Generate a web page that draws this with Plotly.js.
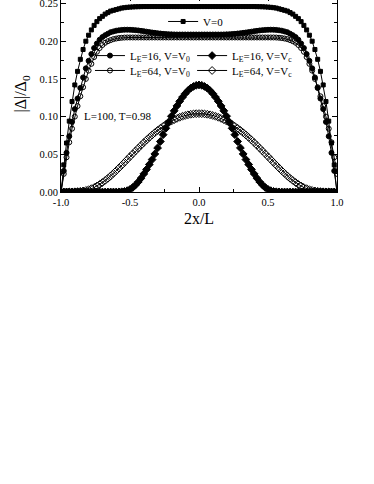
<!DOCTYPE html>
<html>
<head>
<meta charset="utf-8">
<script src="https://cdn.plot.ly/plotly-3.0.1.min.js"></script>
<style>
  html, body { margin: 0; padding: 0; background: #fff; overflow: hidden; }
  #chart { position: absolute; left: 0; top: -20px; width: 374px; height: 504px; }
</style>
</head>
<body>
<div id="chart"></div>
<script>
// 2x/L
const xPos = [-1.00,-0.98,-0.96,-0.94,-0.92,-0.90,-0.88,-0.86,-0.84,-0.82,-0.80,-0.78,-0.76,-0.74,-0.72,-0.70,-0.68,-0.66,-0.64,-0.62,-0.60,
  -0.58,-0.56,-0.54,-0.52,-0.50,-0.48,-0.46,-0.44,-0.42,-0.40,-0.38,-0.36,-0.34,-0.32,-0.30,-0.28,-0.26,-0.24,-0.22,-0.20,
  -0.18,-0.16,-0.14,-0.12,-0.10,-0.08,-0.06,-0.04,-0.02,0.00,0.02,0.04,0.06,0.08,0.10,0.12,0.14,0.16,0.18,0.20,
  0.22,0.24,0.26,0.28,0.30,0.32,0.34,0.36,0.38,0.40,0.42,0.44,0.46,0.48,0.50,0.52,0.54,0.56,0.58,0.60,
  0.62,0.64,0.66,0.68,0.70,0.72,0.74,0.76,0.78,0.80,0.82,0.84,0.86,0.88,0.90,0.92,0.94,0.96,0.98,1.00];

// |Δ|/Δ0, V=0
const gapV0 = [0,0.036,0.065,0.094,0.120,0.142,0.160,0.176,0.189,0.200,0.208,0.215,0.221,0.226,0.230,0.233,0.236,0.238,0.240,0.241,0.242,
  0.243,0.244,0.2445,0.245,0.2453,0.2455,0.2457,0.2458,0.2459,0.246,0.246,0.246,0.246,0.246,0.246,0.246,0.246,0.246,0.246,0.246,
  0.246,0.246,0.246,0.246,0.246,0.246,0.246,0.246,0.246,0.246,0.246,0.246,0.246,0.246,0.246,0.246,0.246,0.246,0.246,0.246,
  0.246,0.246,0.246,0.246,0.246,0.246,0.246,0.246,0.246,0.246,0.2459,0.2458,0.2457,0.2455,0.2453,0.245,0.2445,0.244,0.243,0.242,
  0.241,0.240,0.238,0.236,0.233,0.230,0.226,0.221,0.215,0.208,0.200,0.189,0.176,0.160,0.142,0.120,0.094,0.065,0.036,0];

// L_E=16, V=V0
const gapE16V0 = [0,0.028,0.052,0.074,0.093,0.110,0.124,0.138,0.152,0.164,0.174,0.183,0.191,0.197,0.202,0.2055,0.208,0.210,0.212,0.213,0.214,
  0.2145,0.215,0.2152,0.2153,0.2152,0.215,0.2147,0.2143,0.2138,0.2133,0.2127,0.2121,0.2116,0.2111,0.2106,0.2102,0.2098,0.2095,0.2093,0.2091,
  0.2090,0.2089,0.2089,0.2089,0.2089,0.2089,0.2089,0.2089,0.2089,0.2089,0.2089,0.2089,0.2089,0.2089,0.2089,0.2089,0.2089,0.2089,0.2090,0.2091,
  0.2093,0.2095,0.2098,0.2102,0.2106,0.2111,0.2116,0.2121,0.2127,0.2133,0.2138,0.2143,0.2147,0.215,0.2152,0.2153,0.2152,0.215,0.2145,0.214,
  0.213,0.212,0.210,0.208,0.2055,0.202,0.197,0.191,0.183,0.174,0.164,0.152,0.138,0.124,0.110,0.093,0.074,0.052,0.028,0];

// L_E=64, V=V0
const gapE64V0 = [0,0.024,0.046,0.066,0.084,0.100,0.114,0.127,0.139,0.150,0.161,0.170,0.179,0.186,0.191,0.195,0.198,0.200,0.2015,0.2028,0.2036,
  0.2042,0.2046,0.2049,0.205,0.205,0.205,0.205,0.205,0.205,0.205,0.205,0.205,0.205,0.205,0.205,0.205,0.205,0.205,0.205,0.205,
  0.205,0.205,0.205,0.205,0.205,0.205,0.205,0.205,0.205,0.205,0.205,0.205,0.205,0.205,0.205,0.205,0.205,0.205,0.205,0.205,
  0.205,0.205,0.205,0.205,0.205,0.205,0.205,0.205,0.205,0.205,0.205,0.205,0.205,0.205,0.205,0.205,0.205,0.2049,0.2046,0.2042,
  0.2036,0.2028,0.2015,0.200,0.198,0.195,0.191,0.186,0.179,0.170,0.161,0.150,0.139,0.127,0.114,0.100,0.084,0.066,0.046,0.024,0];

// L_E=16, V=Vc
const gapE16Vc = [0,0,0,0,0,0,0,0,0,0,0,0,0,0,0,0,0,0,0,0,0,
  0.0001,0.0003,0.0008,0.0018,0.0035,0.0060,0.0093,0.0134,0.0183,0.0240,0.0300,0.0365,0.0430,0.0505,0.0585,0.0670,0.0760,0.0845,0.0928,0.1005,
  0.1077,0.1142,0.1203,0.1257,0.1305,0.1345,0.1378,0.1400,0.1415,0.142,0.1415,0.1400,0.1378,0.1345,0.1305,0.1257,0.1203,0.1142,0.1077,0.1005,
  0.0928,0.0845,0.0760,0.0670,0.0585,0.0505,0.0430,0.0365,0.0300,0.0240,0.0183,0.0134,0.0093,0.0060,0.0035,0.0018,0.0008,0.0003,0.0001,0,
  0,0,0,0,0,0,0,0,0,0,0,0,0,0,0,0,0,0,0,0];

// L_E=64, V=Vc
const gapE64Vc = [0,0,0,0.0001,0.0001,0.0003,0.0005,0.0009,0.0014,0.0021,0.0031,0.0044,0.0060,0.0079,0.0101,0.0126,0.0153,0.0182,0.0213,0.0247,0.0282,
  0.0318,0.0355,0.0393,0.0431,0.0469,0.0507,0.0545,0.0582,0.0619,0.0655,0.0690,0.0724,0.0756,0.0787,0.0817,0.0845,0.0871,0.0896,0.0919,0.0940,
  0.0959,0.0976,0.0991,0.1004,0.1015,0.1024,0.1031,0.1036,0.1039,0.1040,0.1039,0.1036,0.1031,0.1024,0.1015,0.1004,0.0991,0.0976,0.0959,0.0940,
  0.0919,0.0896,0.0871,0.0845,0.0817,0.0787,0.0756,0.0724,0.0690,0.0655,0.0619,0.0582,0.0545,0.0507,0.0469,0.0431,0.0393,0.0355,0.0318,0.0282,
  0.0247,0.0213,0.0182,0.0153,0.0126,0.0101,0.0079,0.0060,0.0044,0.0031,0.0021,0.0014,0.0009,0.0005,0.0003,0.0001,0.0001,0,0,0];

const xTicks = [-1, -0.5, 0, 0.5, 1];
const xTickText = ['-1.0', '-0.5', '0.0', '0.5', '1.0'];
const yTicks = [0, 0.05, 0.10, 0.15, 0.20, 0.25];
const yTickText = ['0.00', '0.05', '0.10', '0.15', '0.20', '0.25'];

const FONT = 'Liberation Serif, Times New Roman, serif';

function series(y, name, symbol, size, legend) {
    return {
        x: xPos, y: y, name: name, legend: legend,
        type: 'scatter', mode: 'lines+markers',
        line: { color: '#000', width: 1 },
        marker: { symbol: symbol, size: size, color: '#000', line: { color: '#000', width: 1 } }
    };
}

// one legend box per entry so the rows sit where the reference has them
const traces = [
    series(gapV0, 'V=0', 'square', 4, 'legend'),
    series(gapE16V0, 'L<sub>E</sub>=16, V=V<sub>0</sub>', 'circle', 5, 'legend2'),
    series(gapE64V0, 'L<sub>E</sub>=64, V=V<sub>0</sub>', 'circle-open', 5, 'legend3'),
    series(gapE16Vc, 'L<sub>E</sub>=16, V=V<sub>c</sub>', 'diamond', 6, 'legend4'),
    series(gapE64Vc, 'L<sub>E</sub>=64, V=V<sub>c</sub>', 'diamond-open', 6, 'legend5')
];

function legendBox(x, y) {
    return {
        x: x, y: y, xanchor: 'left', yanchor: 'top',
        bgcolor: 'rgba(0,0,0,0)', borderwidth: 0,
        font: { family: FONT, size: 11, color: '#000' },
        tracegroupgap: 0
    };
}

const axisBase = {
    showline: true, linecolor: '#000', linewidth: 1, mirror: 'allticks',
    ticks: 'inside', ticklen: 5, tickcolor: '#000', tickwidth: 1,
    showgrid: false, zeroline: false,
    tickfont: { family: FONT, size: 10.5, color: '#000' }
};

const layout = {
    width: 374, height: 504,
    margin: { l: 61, r: 37, t: 16, b: 292 },
    paper_bgcolor: '#fff', plot_bgcolor: '#fff',
    font: { family: FONT, color: '#000' },
    showlegend: true,
    xaxis: {
        ...axisBase,
        range: [-1, 1], tickmode: 'array', tickvals: xTicks, ticktext: xTickText,
        minor: { ticks: 'inside', ticklen: 3, tick0: -1, dtick: 0.25, tickcolor: '#000' },
        title: { text: '2x/L', font: { family: FONT, size: 16, color: '#000' }, standoff: 6 }
    },
    yaxis: {
        ...axisBase,
        range: [0, 0.26], tickmode: 'array', tickvals: yTicks, ticktext: yTickText,
        minor: { ticks: 'inside', ticklen: 3, tick0: 0, dtick: 0.025, tickcolor: '#000' },
        title: { text: '|Δ|/Δ<sub>0</sub>', font: { family: FONT, size: 16, color: '#000' }, standoff: 8 }
    },
    legend: legendBox(0.37, 0.944),
    legend2: legendBox(0.105, 0.77),
    legend3: legendBox(0.105, 0.694),
    legend4: legendBox(0.475, 0.77),
    legend5: legendBox(0.475, 0.694),
    annotations: [{
        xref: 'x', yref: 'y', x: -0.587, y: 0.101, showarrow: false,
        text: 'L=100, T=0.98', font: { family: FONT, size: 11, color: '#000' }
    }]
};

Plotly.newPlot('chart', traces, layout, { displayModeBar: false, responsive: false });
</script>
</body>
</html>
